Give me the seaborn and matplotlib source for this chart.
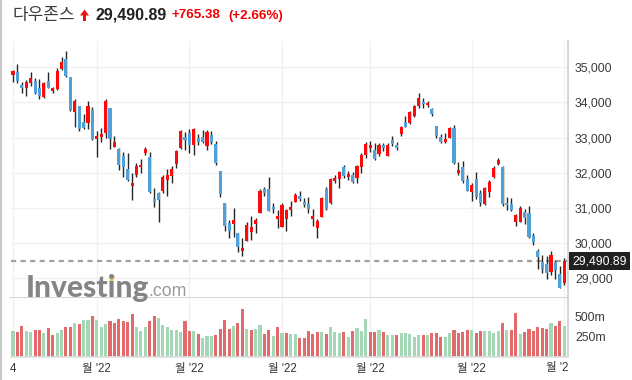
import numpy as np
import pandas as pd
import seaborn as sns
import matplotlib.pyplot as plt
from matplotlib.lines import Line2D
from matplotlib.patches import Polygon, Rectangle

# Dow Jones daily candles, 4 Apr 2022 .. 3 Oct 2022
opens = [34790, 34860, 34500, 34420, 34563, 34610, 34411, 34146, 34610, 34335,
         34373, 34942, 35236, 34724, 33719, 33899, 33444, 33406, 33785, 32970,
         33027, 33131, 33842, 32742, 32676, 32477, 32108, 31634, 31937, 32155,
         32572, 32458, 31255, 31416, 31483, 31800, 31900, 32240, 32714, 33027,
         33131, 32799, 33000, 33020, 32770, 33074, 32818, 32051, 31141, 30572,
         30553, 30288, 29785, 30070, 30326, 30553, 30866, 31539, 31530, 31018,
         30696, 30468, 30686, 30942, 31179, 31340, 31170, 31113, 30686, 30440,
         30752, 31539, 31151, 31776, 31814, 32174, 31890, 31937, 31862, 32174,
         32496, 32714, 32648, 32534, 32780, 32486, 32932, 32780, 33103, 33453,
         33425, 33615, 33899, 34022, 33927, 33814, 33330, 33008, 32885, 32998,
         33264, 32004, 32174, 31824, 31444, 31824, 31416, 31103, 31463, 31871,
         32250, 32174, 31150, 31113, 30610, 30610, 30885, 30847, 30203, 29786,
         29473, 29406, 29188, 29473, 29122, 28857]
highs = [34925, 35084, 34572, 34638, 34876, 34686, 34657, 34582, 34857, 34449,
         34970, 35283, 35463, 34734, 34098, 33908, 33672, 34041, 33880, 33198,
         33283, 34089, 33852, 33036, 32695, 32600, 32553, 31985, 32268, 32400,
         32723, 32600, 31577, 31463, 31947, 32100, 32200, 32660, 33220, 33150,
         33235, 33260, 33100, 33210, 33220, 33180, 32900, 32060, 31150, 30660,
         30990, 30300, 30136, 30610, 30770, 30720, 31530, 31590, 31870, 31130,
         30940, 31130, 30960, 31190, 31420, 31470, 31280, 31320, 30960, 30700,
         31300, 31610, 31860, 31940, 32060, 32220, 32040, 32020, 32230, 32560,
         32880, 32900, 32860, 32850, 32860, 32860, 33050, 32870, 33330, 33615,
         33770, 33930, 34260, 34120, 34050, 33840, 33340, 33100, 33120, 33310,
         33360, 32310, 32340, 31940, 31720, 32030, 31500, 31600, 31800, 32180,
         32420, 32180, 31310, 31280, 30830, 31050, 30960, 31050, 30280, 29820,
         29670, 29640, 29790, 29520, 29350, 29590]
lows = [34591, 34544, 34259, 34183, 34468, 34231, 34089, 34117, 34401, 34259,
        34354, 34923, 34714, 33757, 33312, 33197, 33235, 33235, 32932, 32439,
        32885, 32979, 32676, 32724, 32080, 31890, 31776, 31226, 31890, 31985,
        32506, 31420, 31037, 30610, 31416, 31350, 31720, 32150, 32680, 32650,
        32553, 32506, 32780, 32840, 32650, 32830, 32230, 31300, 30354, 30140,
        30180, 29738, 29643, 30060, 30090, 30280, 30850, 31340, 30920, 30870,
        30420, 30460, 30335, 30770, 31160, 31210, 31040, 30850, 30500, 30140,
        30740, 30940, 31100, 31720, 31560, 31860, 31790, 31700, 31720, 32000,
        32420, 32590, 32360, 32470, 32630, 32470, 32760, 32650, 33050, 33290,
        33400, 33590, 33830, 33850, 33880, 33610, 32990, 32850, 32840, 32990,
        32240, 31940, 31700, 31470, 31200, 31250, 31060, 31080, 31300, 31850,
        32220, 31050, 30940, 30900, 30500, 30590, 30550, 30150, 29950, 29260,
        29150, 28980, 29100, 28990, 28715, 28820]
closes = [34890, 34610, 34420, 34582, 34695, 34278, 34193, 34553, 34420, 34411,
          34885, 35150, 34762, 33785, 34042, 33235, 33273, 33899, 32960, 33046,
          33103, 34041, 32970, 32875, 32231, 32155, 31795, 31720, 32203, 32231,
          32667, 31444, 31179, 31226, 31871, 31950, 32120, 32619, 33188, 32932,
          32799, 33235, 32890, 32890, 33160, 32885, 32270, 31388, 30496, 30354,
          30657, 29899, 29861, 30506, 30459, 30657, 31482, 31435, 30923, 30961,
          30771, 31084, 30942, 31027, 31369, 31255, 31094, 30970, 30771, 30629,
          31283, 30961, 31824, 31862, 32023, 31909, 31966, 31748, 32193, 32505,
          32818, 32780, 32382, 32780, 32714, 32780, 32809, 32714, 33292, 33311,
          33738, 33899, 34117, 33946, 33994, 33672, 33046, 32885, 32970, 33264,
          32283, 32080, 31776, 31492, 31653, 31302, 31132, 31558, 31748, 32127,
          32364, 31113, 31084, 30942, 30800, 30989, 30705, 30165, 30041, 29596,
          29254, 29141, 29653, 29236, 28726, 29491]

# volume in millions, and the bar colour seen on the chart (G green / R red)
volumes = [321, 308, 383, 321, 313, 333, 333, 304, 358, 271,
           304, 333, 371, 371, 421, 408, 458, 458, 508, 458,
           371, 408, 446, 421, 471, 446, 433, 533, 371, 321,
           371, 446, 508, 483, 396, 371, 333, 333, 308, 446,
           321, 321, 283, 233, 258, 258, 271, 346, 458, 346,
           383, 421, 596, 346, 333, 346, 396, 283, 333, 258,
           371, 296, 296, 283, 283, 233, 233, 321, 283, 308,
           308, 283, 371, 308, 296, 308, 246, 321, 358, 321,
           471, 308, 308, 333, 308, 271, 271, 271, 296, 296,
           283, 246, 271, 271, 271, 296, 296, 246, 246, 296,
           333, 296, 308, 333, 333, 296, 321, 321, 321, 296,
           321, 421, 333, 333, 546, 283, 308, 346, 321, 371,
           358, 346, 421, 383, 446, 383]
vol_side = list("GRRGGRRGRR" "GGRRGRGGRG" "GGRRRRRRGG" "GRRGGGGGGR"
                "RGRGGGRRRR" "GRRGRGGRRG" "RGRGGRRR"
                "RRGRGGGRGR" "GGGRRGRGGR" "GGGGGRGRRR" "GGRRRRGRRG"
                "GGGRGRRGRR" "RRRRGRRG")

month_idx = [0, 19, 40, 61, 81, 104, 125]
month_labels = ["4", "월 '22", "월 '22", "월 '22", "월 '22", "월 '22"]
price_ticks = [29000, 30000, 31000, 32000, 33000, 34000, 35000]
vol_ticks = [250, 500]
last_price = 29490.89

df = pd.DataFrame({"day": np.arange(len(closes)), "open": opens, "high": highs,
                   "low": lows, "close": closes, "volume": volumes,
                   "side": vol_side})
df["body_lo"] = df[["open", "close"]].min(axis=1)
df["body_h"] = (df["close"] - df["open"]).abs().clip(lower=35)
df["colour"] = np.where(df["close"] >= df["open"], "#ff0a0a", "#4ea1da")

sns.set_theme(style="white")
plt.rcParams["font.family"] = ["Liberation Sans", "Noto Sans CJK KR", "DejaVu Sans"]

W, H = 632, 380
fig = plt.figure(figsize=(W / 100, H / 100), dpi=100)


def px(x, y):
    return x / W, 1 - y / H


left, right = 11, 568
ax = fig.add_axes([left / W, 1 - 298 / H, (right - left) / W, (298 - 41) / H])
axv = fig.add_axes([left / W, 1 - 357 / H, (right - left) / W, (357 - 298) / H], sharex=ax)

# grid
for v in price_ticks:
    ax.axhline(v, color="#f1f1f1", lw=1, zorder=0)
for m in month_idx:
    ax.axvline(m, color="#f1f1f1", lw=1, zorder=0)
    axv.axvline(m, color="#f1f1f1", lw=1, zorder=0)

# candles
ax.vlines(df["day"], df["low"], df["high"], color="#262626", lw=1, zorder=2)
ax.bar(df["day"], df["body_h"], bottom=df["body_lo"], width=0.7,
       color=df["colour"], linewidth=0, zorder=3)

# last price line + label
ax.axhline(last_price, color="#a0a0a0", lw=1.6, linestyle=(0, (2.3, 2.0)), zorder=1.5)
ax.annotate(f"{last_price:,.2f}", xy=(1, last_price), xycoords=("axes fraction", "data"),
            xytext=(3, 0), textcoords="offset points", ha="left", va="center",
            color="white", fontsize=8.8,
            bbox=dict(boxstyle="square,pad=0.28", fc="#202020", ec="none"),
            annotation_clip=False)

# volume
sns.barplot(data=df, x="day", y="volume", hue="side",
            palette={"G": "#a3d7b5", "R": "#e36a6a"}, native_scale=True,
            width=0.7, dodge=False, legend=False, saturation=1,
            errorbar=None, linewidth=0, ax=axv)

x0 = (left - 13) / 4.41
x1 = (right - 13) / 4.41
ax.set_xlim(x0, x1)
ax.set_ylim(28440, 35748)
axv.set_ylim(0, 737)

ax.yaxis.tick_right()
ax.set_yticks(price_ticks)
ax.set_yticklabels([f"{v:,}" for v in price_ticks])
ax.tick_params(axis="y", length=0, pad=5, labelsize=8.8, labelcolor="#3a3a3a")
ax.tick_params(axis="x", length=0, labelbottom=False)

axv.yaxis.tick_right()
axv.set_yticks(vol_ticks)
axv.set_yticklabels([f"{v}m" for v in vol_ticks])
axv.tick_params(axis="y", length=0, pad=5, labelsize=8.8, labelcolor="#3a3a3a")
axv.set_xticks(month_idx[:-1])
axv.set_xticklabels(month_labels)
axv.tick_params(axis="x", length=0, pad=4, labelsize=8.3, labelcolor="#333333")
axv.set_xlabel("")
axv.set_ylabel("")
axv.text(123.3, -0.19, "월 '2", transform=axv.get_xaxis_transform(),
         ha="center", va="center", fontsize=8.3, color="#333333")

for a in (ax, axv):
    a.spines["top"].set_visible(False)
    a.spines["left"].set_visible(False)
    a.spines["right"].set_color("#cfcfcf")
ax.spines["bottom"].set_color("#cfcfcf")
axv.spines["bottom"].set_color("#dedede")

# page border on the left
fig.add_artist(Line2D([0.9 / W, 0.9 / W], [0, 1], color="#c8c8c8", lw=1.5))

# watermark
fig.text(*px(26, 288.5), "Investing", fontsize=21.5, fontweight="black",
         family=["Lato", "Liberation Sans"], color="#858585",
         va="center", ha="left", zorder=1)
fig.text(*px(148.5, 292), ".com", fontsize=12.8, color="#9a9a9a",
         va="center", ha="left", zorder=1)
fig.add_artist(Polygon([px(109, 282), px(111, 276), px(115, 276), px(113, 282)],
                       closed=True, fc="#f5c46a", ec="none"))

# header
fig.text(*px(12, 15), "다우존스", fontsize=12.2, color="#3c3c3c",
         va="center", ha="left", family=["Noto Sans CJK KR", "DejaVu Sans"])
fig.add_artist(Polygon([px(80, 15.5), px(84.5, 9.5), px(89, 15.5)],
                       closed=True, fc="#ee1111", ec="none"))
fig.add_artist(Rectangle(px(82.7, 20.5), 3.6 / W, 5.2 / H, fc="#ee1111", ec="none"))
fig.text(*px(95, 15), "29,490.89", fontsize=11.5, fontweight="bold",
         color="#222222", va="center", ha="left")
fig.text(*px(172, 15.5), "+765.38", fontsize=9.6, fontweight="bold",
         color="#f00000", va="center", ha="left")
fig.text(*px(228, 15.5), "(+2.66%)", fontsize=9.6, fontweight="bold",
         color="#f00000", va="center", ha="left")

fig.savefig("out.png", dpi=100)
